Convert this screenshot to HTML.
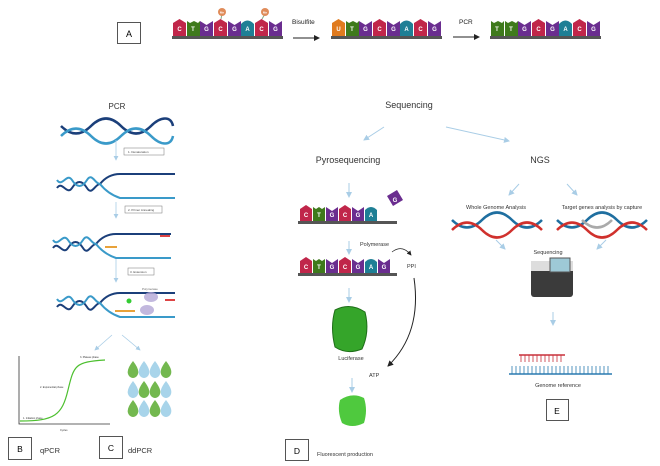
<!DOCTYPE html>
<html><head><meta charset="utf-8"><style>
body{margin:0;background:#fff;}
svg{display:block;font-family:"Liberation Sans",sans-serif;}
</style></head><body>
<svg width="660" height="466" viewBox="0 0 660 466" xmlns="http://www.w3.org/2000/svg">
<defs>
<marker id="ab" markerWidth="6" markerHeight="6" refX="5" refY="3" orient="auto"><path d="M0,0 L6,3 L0,6z" fill="#222"/></marker>
<marker id="al" markerWidth="6" markerHeight="6" refX="5" refY="3" orient="auto"><path d="M0,0 L6,3 L0,6z" fill="#a9cde6"/></marker>
<g id="hx"><path d="M0,0 C10,10 20,10 30,0 S50,-10 60,0 S80,10 90,0" stroke="#1f6fa0" stroke-width="2.5" fill="none"/><path d="M0,10 C10,0 20,0 30,10 S50,20 60,10 S80,0 90,10" stroke="#d0312d" stroke-width="2.5" fill="none"/></g>
<g id="bh"><path d="M0,0 C10,10 20,10 30,0 S50,-10 60,0 S80,10 90,0 S110,-10 112,0" stroke="#1b3f7a" stroke-width="2.5" fill="none"/><path d="M0,10 C10,0 20,0 30,10 S50,20 60,10 S80,0 90,10 S110,20 112,10" stroke="#3a9ac9" stroke-width="2.5" fill="none"/></g>
<path id="dr" d="M0,0 q-8,10 -4,15 q4,4 8,0 q4,-5 -4,-15z"/>
</defs>
<g font-size="6" fill="#fff" font-weight="bold" text-anchor="middle">
<rect x="172" y="36" width="111" height="3" fill="#555"/>
<path d="M173,36 v-13 l6.5,-4 l6.5,4 v13z" fill="#c0264a"/><text x="179.5" y="31">C</text>
<path d="M187,36 v-15 l3,2 l4,-2 l4,2 l2,-2 v15z" fill="#3f7a1c"/><text x="193" y="31">T</text>
<path d="M200,36 v-15 l6.5,4 l6.5,-4 v15z" fill="#6a2d8f"/><text x="206.5" y="31">G</text>
<path d="M214,36 v-13 l6.5,-4 l6.5,4 v13z" fill="#c0264a"/><text x="220.5" y="31">C</text>
<path d="M228,36 v-15 l6.5,4 l6.5,-4 v15z" fill="#6a2d8f"/><text x="234.5" y="31">G</text>
<path d="M241,36 v-12 q6.5,-7 13,0 v12z" fill="#1e7f95"/><text x="247.5" y="31">A</text>
<path d="M255,36 v-13 l6.5,-4 l6.5,4 v13z" fill="#c0264a"/><text x="261.5" y="31">C</text>
<path d="M269,36 v-15 l6.5,4 l6.5,-4 v15z" fill="#6a2d8f"/><text x="275.5" y="31">G</text>
<line x1="221" y1="19" x2="222" y2="14" stroke="#8a8" /><circle cx="222" cy="12" r="4" fill="#e08c5a"/><text x="222" y="13.5" font-size="3">Me</text>
<line x1="262" y1="19" x2="265" y2="14" stroke="#8a8" /><circle cx="265" cy="12" r="4" fill="#e08c5a"/><text x="265" y="13.5" font-size="3">Me</text>
<rect x="331" y="36" width="111" height="3" fill="#555"/>
<path d="M332,36 v-13 l6.5,-4 l6.5,4 v13z" fill="#e07b1f"/><text x="338.5" y="31">U</text>
<path d="M346,36 v-15 l3,2 l4,-2 l4,2 l2,-2 v15z" fill="#3f7a1c"/><text x="352" y="31">T</text>
<path d="M359,36 v-15 l6.5,4 l6.5,-4 v15z" fill="#6a2d8f"/><text x="365.5" y="31">G</text>
<path d="M373,36 v-13 l6.5,-4 l6.5,4 v13z" fill="#c0264a"/><text x="379.5" y="31">C</text>
<path d="M387,36 v-15 l6.5,4 l6.5,-4 v15z" fill="#6a2d8f"/><text x="393.5" y="31">G</text>
<path d="M400,36 v-12 q6.5,-7 13,0 v12z" fill="#1e7f95"/><text x="406.5" y="31">A</text>
<path d="M414,36 v-13 l6.5,-4 l6.5,4 v13z" fill="#c0264a"/><text x="420.5" y="31">C</text>
<path d="M428,36 v-15 l6.5,4 l6.5,-4 v15z" fill="#6a2d8f"/><text x="434.5" y="31">G</text>
<rect x="490" y="36" width="111" height="3" fill="#555"/>
<path d="M491,36 v-15 l3,2 l4,-2 l4,2 l2,-2 v15z" fill="#3f7a1c"/><text x="497" y="31">T</text>
<path d="M505,36 v-15 l3,2 l4,-2 l4,2 l2,-2 v15z" fill="#3f7a1c"/><text x="511" y="31">T</text>
<path d="M518,36 v-15 l6.5,4 l6.5,-4 v15z" fill="#6a2d8f"/><text x="524.5" y="31">G</text>
<path d="M532,36 v-13 l6.5,-4 l6.5,4 v13z" fill="#c0264a"/><text x="538.5" y="31">C</text>
<path d="M546,36 v-15 l6.5,4 l6.5,-4 v15z" fill="#6a2d8f"/><text x="552.5" y="31">G</text>
<path d="M559,36 v-12 q6.5,-7 13,0 v12z" fill="#1e7f95"/><text x="565.5" y="31">A</text>
<path d="M573,36 v-13 l6.5,-4 l6.5,4 v13z" fill="#c0264a"/><text x="579.5" y="31">C</text>
<path d="M587,36 v-15 l6.5,4 l6.5,-4 v15z" fill="#6a2d8f"/><text x="593.5" y="31">G</text>
</g>
<text x="292" y="24" font-size="6.5" fill="#222">Bisulfite</text>
<line x1="293" y1="38" x2="319" y2="38" stroke="#222" marker-end="url(#ab)"/>
<text x="459" y="24" font-size="6.5" fill="#222">PCR</text>
<line x1="453" y1="37" x2="479" y2="37" stroke="#222" marker-end="url(#ab)"/>
<rect x="117.5" y="22.5" width="23" height="21" fill="#fff" stroke="#555"/>
<text x="129" y="37" font-size="9" text-anchor="middle">A</text>

<text x="117" y="109" font-size="8" text-anchor="middle" fill="#333">PCR</text>
<use href="#bh" x="61" y="126"/>
<g stroke="#a9cde6" stroke-width="0.8"><line x1="116" y1="140" x2="116" y2="160" marker-end="url(#al)"/><line x1="116" y1="202" x2="116" y2="218" marker-end="url(#al)"/><line x1="116" y1="258" x2="116" y2="282" marker-end="url(#al)"/>
<line x1="112" y1="335" x2="95" y2="350" marker-end="url(#al)"/><line x1="122" y1="335" x2="140" y2="350" marker-end="url(#al)"/></g>
<g font-size="3" fill="#444"><rect x="124" y="148" width="40" height="7" fill="#fff" stroke="#777" stroke-width="0.5"/><text x="128" y="153">1. Denaturation</text>
<rect x="125" y="206" width="37" height="7" fill="#fff" stroke="#777" stroke-width="0.5"/><text x="128" y="211">2. Primer Annealing</text>
<rect x="128" y="268" width="26" height="7" fill="#fff" stroke="#777" stroke-width="0.5"/><text x="130" y="273">3. Extension</text></g>
<g fill="none" stroke-width="2">
<path d="M57,188 c5,-8 10,8 15,0 s10,-8 15,0 s8,-4 13,-4 q8,-10 20,-10 h55" stroke="#1b3f7a"/>
<path d="M57,180 c5,8 10,-8 15,0 s10,8 15,0 s8,4 13,4 q8,10 20,14 h55" stroke="#3a9ac9"/>
<path d="M53,248 c5,-8 10,8 15,0 s10,-8 15,0 s8,-4 13,-4 q8,-10 20,-10 h55" stroke="#1b3f7a"/>
<path d="M53,240 c5,8 10,-8 15,0 s10,8 15,0 s8,4 13,4 q8,10 20,14 h55" stroke="#3a9ac9"/>
<path d="M57,307 c5,-8 10,8 15,0 s10,-8 15,0 s8,-4 13,-4 q8,-10 20,-10 h55" stroke="#1b3f7a"/>
<path d="M57,299 c5,8 10,-8 15,0 s10,8 15,0 s8,4 13,4 q8,10 20,14 h55" stroke="#3a9ac9"/>
</g>
<rect x="105" y="246" width="12" height="2" fill="#e8a23a"/><rect x="160" y="235" width="10" height="2" fill="#d44"/>
<rect x="115" y="310" width="20" height="2" fill="#e8a23a"/><rect x="165" y="299" width="10" height="2" fill="#d44"/>
<circle cx="129" cy="301" r="2.5" fill="#3c3"/>
<ellipse cx="151" cy="297" rx="7" ry="5" fill="#b3a6d6" opacity="0.8"/><ellipse cx="147" cy="310" rx="7" ry="5" fill="#b3a6d6" opacity="0.8"/>
<text x="142" y="290" font-size="3" fill="#666">Polymerase</text>
<path d="M19,356 V424 H110" stroke="#333" stroke-width="0.8" fill="none"/>
<path d="M20,421 C55,421 62,415 68,390 S75,362 105,360" stroke="#4cbf2e" stroke-width="1.2" fill="none"/>
<g font-size="2.5" fill="#333"><text x="80" y="358">3. Plateau phase</text><text x="40" y="388">2. Exponential phase</text><text x="23" y="419">1. Initiation phase</text><text x="60" y="431">Cycles</text></g>
<g>
<use href="#dr" x="133" y="361" fill="#73b84f"/><use href="#dr" x="144" y="361" fill="#a8d4ea"/><use href="#dr" x="155" y="361" fill="#a8d4ea"/><use href="#dr" x="166" y="361" fill="#73b84f"/>
<use href="#dr" x="133" y="381" fill="#a8d4ea"/><use href="#dr" x="144" y="381" fill="#73b84f"/><use href="#dr" x="155" y="381" fill="#73b84f"/><use href="#dr" x="166" y="381" fill="#a8d4ea"/>
<use href="#dr" x="133" y="400" fill="#73b84f"/><use href="#dr" x="144" y="400" fill="#a8d4ea"/><use href="#dr" x="155" y="400" fill="#73b84f"/><use href="#dr" x="166" y="400" fill="#a8d4ea"/>
</g>
<rect x="8.5" y="437.5" width="23" height="22" fill="#fff" stroke="#555"/><text x="20" y="452" font-size="8.5" text-anchor="middle">B</text>
<text x="40" y="453" font-size="7.5" fill="#333">qPCR</text>
<rect x="99.5" y="436.5" width="23" height="22" fill="#fff" stroke="#555"/><text x="111" y="451" font-size="8.5" text-anchor="middle">C</text>
<text x="128" y="453" font-size="7.5" fill="#333">ddPCR</text>

<text x="409" y="108" font-size="9" text-anchor="middle" fill="#333">Sequencing</text>
<g stroke="#a9cde6" stroke-width="1"><line x1="384" y1="127" x2="364" y2="140" marker-end="url(#al)"/><line x1="446" y1="127" x2="509" y2="141" marker-end="url(#al)"/>
<line x1="349" y1="183" x2="349" y2="197" marker-end="url(#al)"/><line x1="349" y1="241" x2="349" y2="254" marker-end="url(#al)"/><line x1="349" y1="288" x2="349" y2="302" marker-end="url(#al)"/><line x1="352" y1="378" x2="352" y2="392" marker-end="url(#al)"/>
<line x1="519" y1="184" x2="509" y2="195" marker-end="url(#al)"/><line x1="567" y1="184" x2="577" y2="195" marker-end="url(#al)"/>
<line x1="496" y1="240" x2="505" y2="249" marker-end="url(#al)"/><line x1="606" y1="240" x2="597" y2="249" marker-end="url(#al)"/><line x1="553" y1="312" x2="553" y2="325" marker-end="url(#al)"/></g>
<text x="348" y="163" font-size="9" text-anchor="middle" fill="#333">Pyrosequencing</text>
<text x="540" y="163" font-size="9" text-anchor="middle" fill="#333">NGS</text>
<g font-size="6" fill="#fff" font-weight="bold" text-anchor="middle">
<rect x="298" y="221" width="99" height="3" fill="#555"/>
<path d="M300,221 v-12 l6,-4 l6,4 v12z" fill="#c0264a"/><text x="306" y="217">C</text>
<path d="M313,221 v-14 l3,2 l3,-2 l3,2 l3,-2 v14z" fill="#3f7a1c"/><text x="319" y="217">T</text>
<path d="M326,221 v-14 l6,4 l6,-4 v14z" fill="#6a2d8f"/><text x="332" y="217">G</text>
<path d="M339,221 v-12 l6,-4 l6,4 v12z" fill="#c0264a"/><text x="345" y="217">C</text>
<path d="M352,221 v-14 l6,4 l6,-4 v14z" fill="#6a2d8f"/><text x="358" y="217">G</text>
<path d="M365,221 v-11 q6,-6 12,0 v11z" fill="#1e7f95"/><text x="371" y="217">A</text>
<path d="M387,196 l10,-6 l6,10 l-10,6z" fill="#6a2d8f"/><text x="395" y="202">G</text>
<rect x="298" y="273" width="99" height="3" fill="#555"/>
<path d="M300,273 v-12 l6,-4 l6,4 v12z" fill="#c0264a"/><text x="306" y="269">C</text>
<path d="M313,273 v-14 l3,2 l3,-2 l3,2 l3,-2 v14z" fill="#3f7a1c"/><text x="319" y="269">T</text>
<path d="M326,273 v-14 l6,4 l6,-4 v14z" fill="#6a2d8f"/><text x="332" y="269">G</text>
<path d="M339,273 v-12 l6,-4 l6,4 v12z" fill="#c0264a"/><text x="345" y="269">C</text>
<path d="M352,273 v-14 l6,4 l6,-4 v14z" fill="#6a2d8f"/><text x="358" y="269">G</text>
<path d="M365,273 v-11 q6,-6 12,0 v11z" fill="#1e7f95"/><text x="371" y="269">A</text>
<path d="M378,273 v-14 l6,4 l6,-4 v14z" fill="#6a2d8f"/><text x="384" y="269">G</text>
</g>
<text x="360" y="246" font-size="5.5" fill="#333">Polymerase</text>
<path d="M392,252 q10,-8 19,3" stroke="#222" fill="none" stroke-width="0.8" marker-end="url(#ab)"/>
<text x="407" y="268" font-size="5.5" fill="#333">PPI</text>
<path d="M414,278 q8,55 -26,88" stroke="#222" fill="none" stroke-width="1" marker-end="url(#ab)"/>
<path d="M335,310 q15,-8 30,2 q5,20 -3,37 q-15,6 -27,-2 q-5,-20 0,-37z" fill="#35a52a" stroke="#1e6e18" stroke-width="1"/>
<text x="351" y="360" font-size="5.5" text-anchor="middle" fill="#333">Luciferase</text>
<text x="369" y="377" font-size="5.5" fill="#333">ATP</text>
<path d="M340,400 q12,-8 24,-2 q4,12 0,25 q-12,6 -22,0 q-5,-12 -2,-23z" fill="#4fc93e"/>
<rect x="285.5" y="439.5" width="23" height="21" fill="#fff" stroke="#555"/><text x="297" y="454" font-size="8.5" text-anchor="middle">D</text>
<text x="317" y="456" font-size="5.5" fill="#333">Fluorescent production</text>
<text x="496" y="209" font-size="5.5" text-anchor="middle" fill="#333">Whole Genome Analysis</text>
<text x="602" y="209" font-size="5.5" text-anchor="middle" fill="#333">Target genes analysis by capture</text>
<use href="#hx" x="452" y="220"/>
<use href="#hx" x="557" y="220"/>
<path d="M582,220 c10,10 20,10 30,0" stroke="#aaa" stroke-width="2.6" fill="none"/>
<text x="548" y="254" font-size="5.5" text-anchor="middle" fill="#333">Sequencing</text>
<rect x="531" y="261" width="42" height="36" rx="3" fill="#3b3b3b"/><rect x="531" y="261" width="42" height="10" fill="#ddd"/><rect x="550" y="258" width="20" height="14" fill="#9ec9d6" stroke="#555"/>
<g stroke="#c8303a" stroke-width="0.8"><line x1="519" y1="355" x2="565" y2="355" stroke-width="1.5"/><path d="M521,355v7M525,355v7M529,355v7M533,355v7M537,355v7M541,355v7M545,355v7M549,355v7M553,355v7M557,355v7M561,355v7"/></g>
<g stroke="#2a7ab0" stroke-width="0.8"><line x1="509" y1="374" x2="612" y2="374" stroke-width="1.5"/><path d="M512,374v-8M516,374v-8M520,374v-8M524,374v-8M528,374v-8M532,374v-8M536,374v-8M540,374v-8M544,374v-8M548,374v-8M552,374v-8M556,374v-8M560,374v-8M564,374v-8M568,374v-8M572,374v-8M576,374v-8M580,374v-8M584,374v-8M588,374v-8M592,374v-8M596,374v-8M600,374v-8M604,374v-8M608,374v-8"/></g>
<text x="558" y="387" font-size="5.5" text-anchor="middle" fill="#333">Genome reference</text>
<rect x="546.5" y="399.5" width="22" height="21" fill="#fff" stroke="#555"/><text x="557" y="414" font-size="8.5" text-anchor="middle">E</text>
</svg>
</body></html>
